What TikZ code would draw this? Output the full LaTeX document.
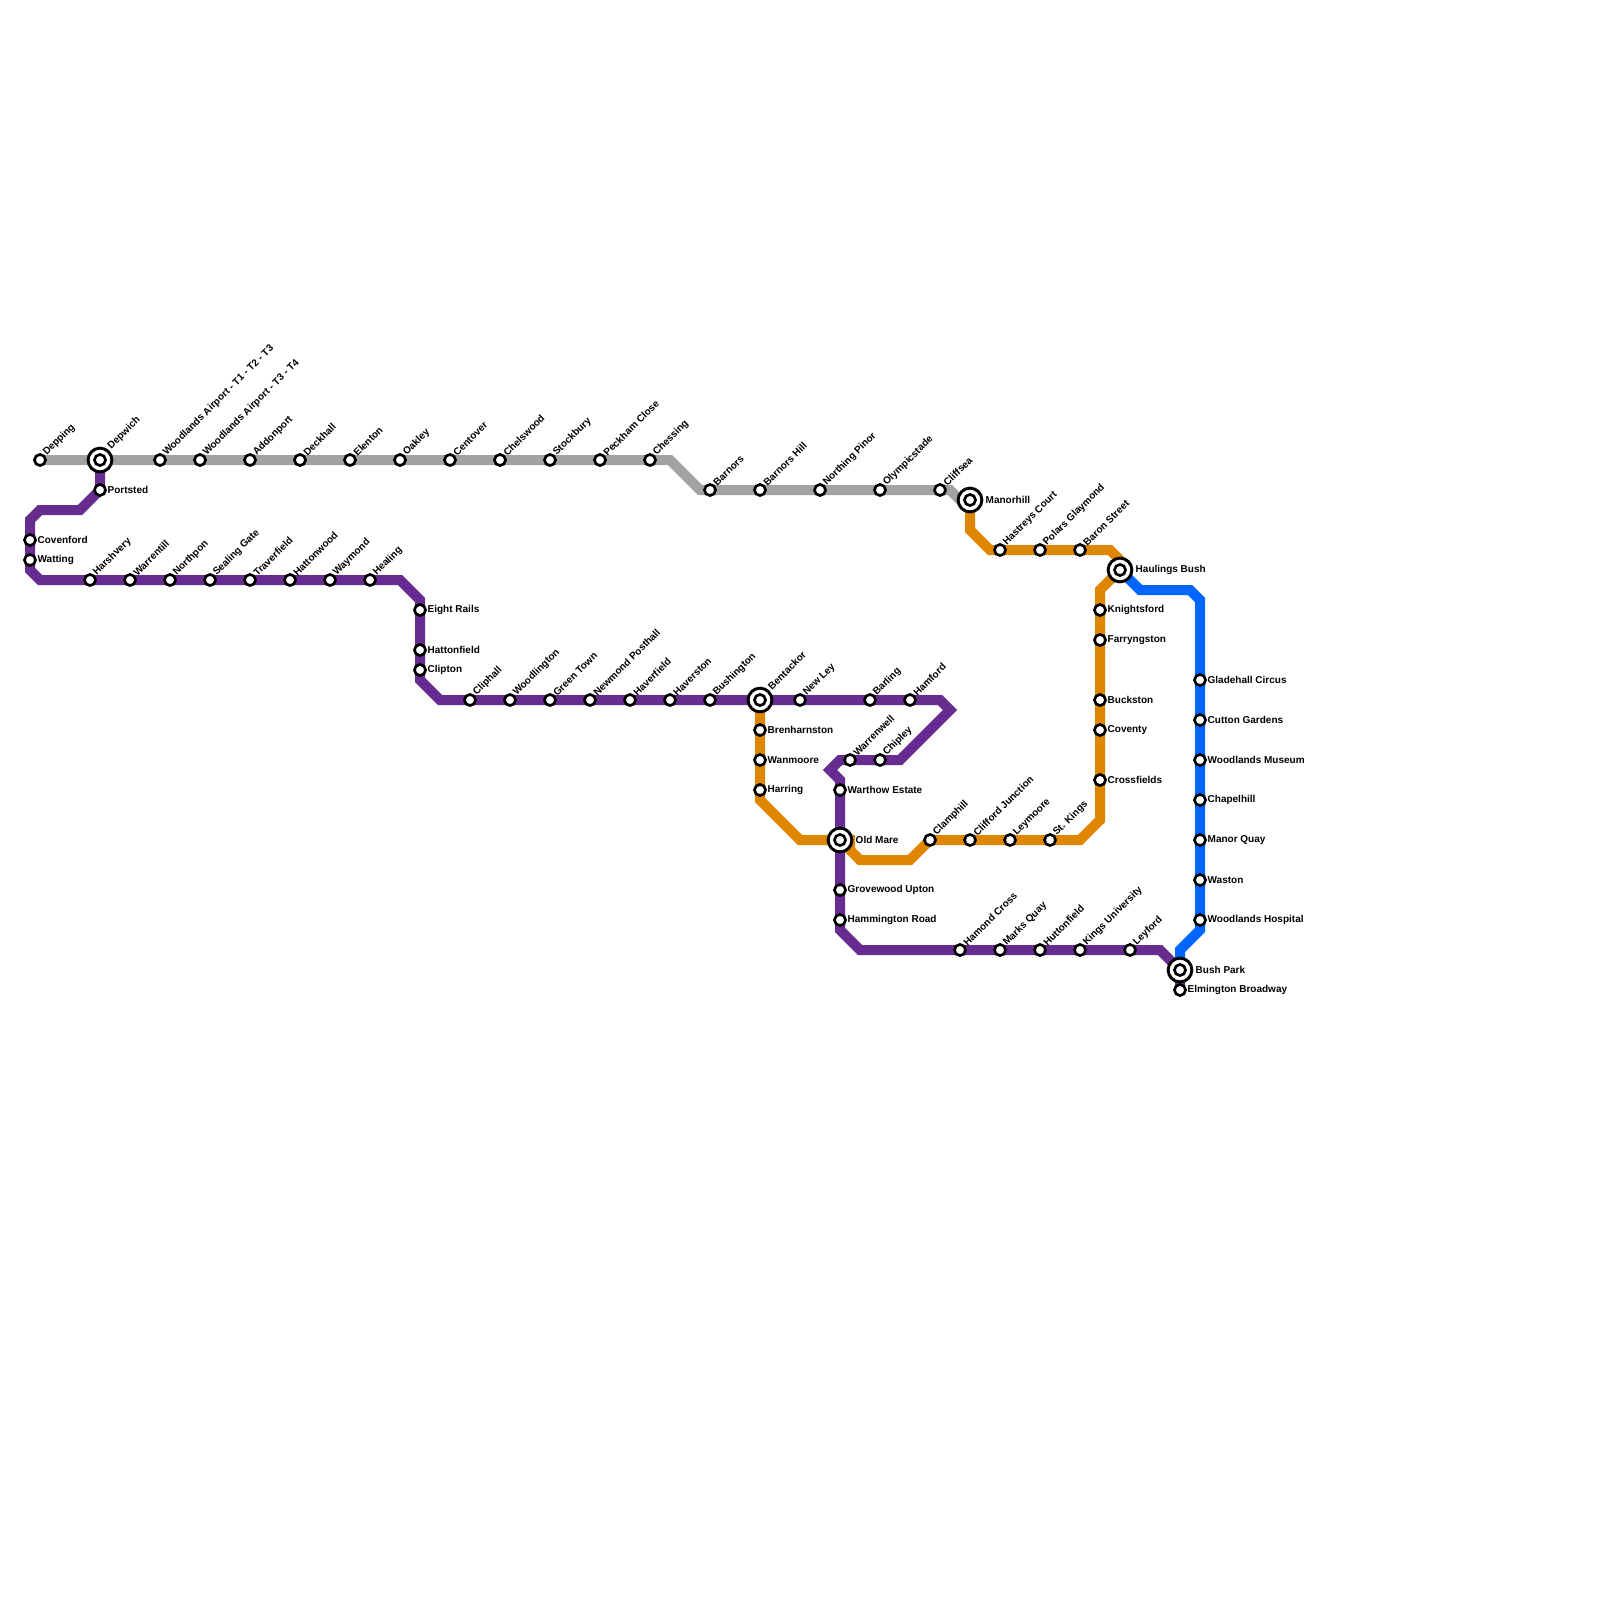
\documentclass[tikz,border=0pt]{standalone}
\usepackage{fontspec}
\setmainfont{Liberation Sans}
\pgfdeclarelayer{lines}
\pgfsetlayers{lines,main}
\definecolor{greyline}{HTML}{A2A2A2}
\definecolor{purpleline}{HTML}{662C90}
\definecolor{orangeline}{HTML}{DF8600}
\definecolor{blueline}{HTML}{0066FF}
\begin{document}
\begin{tikzpicture}[x=0.75pt, y=-0.75pt]
    \useasboundingbox (0,0) rectangle (1600,1600);

    \tikzstyle{stn} = [circle, draw=black, fill=white, line width=2pt, minimum size=8.3pt, inner sep=0pt]
    \tikzstyle{hub} = [circle, draw=black, fill=white, line width=2.2pt, minimum size=17.8pt, inner sep=0pt]
    \tikzstyle{lbl} = [font=\bfseries\fontsize{7.5}{8}\selectfont, inner sep=0pt]
    \tikzstyle{ln} = [line width=7.5pt, miter limit=10]
    \tikzset{
        r/.style={label={[lbl, label distance=0.4pt]right:#1}},
        rr/.style={label={[lbl, label distance=1.6pt]right:#1}},
        u/.style={label={[lbl, label distance=0.6pt, rotate=45, anchor=west]45:#1}},
        uu/.style={label={[lbl, label distance=1.9pt, rotate=45, anchor=west]45:#1}},
    }

    % grey
    \node (depping) [stn, u=Depping] at (40,460) {};
    \node (depwich) [hub, uu=Depwich] at (100,460) {};
    \node (depwichin) [stn] at (depwich) {};
    \node (airportone) [stn, u={Woodlands Airport - T1 - T2 - T3}] at (160,460) {};
    \node (airporttwo) [stn, u={Woodlands Airport - T3 - T4}] at (200,460) {};
    \node (addonport) [stn, u=Addonport] at (250,460) {};
    \node (deckhall) [stn, u=Deckhall] at (300,460) {};
    \node (elenton) [stn, u=Elenton] at (350,460) {};
    \node (oakley) [stn, u=Oakley] at (400,460) {};
    \node (centover) [stn, u=Centover] at (450,460) {};
    \node (chelswood) [stn, u=Chelswood] at (500,460) {};
    \node (stockbury) [stn, u=Stockbury] at (550,460) {};
    \node (peckham) [stn, u={Peckham Close}] at (600,460) {};
    \node (chessing) [stn, u=Chessing] at (650,460) {};
    \node (barnors) [stn, u=Barnors] at (710,490) {};
    \node (barnorshill) [stn, u={Barnors Hill}] at (760,490) {};
    \node (northing) [stn, u={Northing Pinor}] at (820,490) {};
    \node (olympic) [stn, u=Olympicstade] at (880,490) {};
    \node (cliffsea) [stn, u=Cliffsea] at (940,490) {};
    \node (manorhill) [hub, rr=Manorhill] at (970,500) {};
    \node (manorhillin) [stn] at (manorhill) {};

    % purple
    \node (portsted) [stn, r=Portsted] at (100,490) {};
    \node (covenford) [stn, r=Covenford] at (30,540) {};
    \node (watting) [stn, r=Watting] at (30,560) {};
    \node (harshvery) [stn, u=Harshvery] at (90,580) {};
    \node (warrentill) [stn, u=Warrentill] at (130,580) {};
    \node (northpon) [stn, u=Northpon] at (170,580) {};
    \node (sealing) [stn, u={Sealing Gate}] at (210,580) {};
    \node (traverfield) [stn, u=Traverfield] at (250,580) {};
    \node (hattonwood) [stn, u=Hattonwood] at (290,580) {};
    \node (waymond) [stn, u=Waymond] at (330,580) {};
    \node (healing) [stn, u=Healing] at (370,580) {};
    \node (eightrails) [stn, r={Eight Rails}] at (420,610) {};
    \node (hattonfield) [stn, r=Hattonfield] at (420,650) {};
    \node (clipton) [stn, r=Clipton] at (420,670) {};
    \node (cliphall) [stn, u=Cliphall] at (470,700) {};
    \node (woodlington) [stn, u=Woodlington] at (510,700) {};
    \node (greentown) [stn, u={Green Town}] at (550,700) {};
    \node (newmond) [stn, u={Newmond Posthall}] at (590,700) {};
    \node (haverfield) [stn, u=Haverfield] at (630,700) {};
    \node (haverston) [stn, u=Haverston] at (670,700) {};
    \node (bushington) [stn, u=Bushington] at (710,700) {};
    \node (bentackor) [hub, uu=Bentackor] at (760,700) {};
    \node (bentackorin) [stn] at (bentackor) {};
    \node (newley) [stn, u={New Ley}] at (800,700) {};
    \node (barling) [stn, u=Barling] at (870,700) {};
    \node (hamford) [stn, u=Hamford] at (910,700) {};
    \node (chipley) [stn, u=Chipley] at (880,760) {};
    \node (warrenwell) [stn, u=Warrenwell] at (850,760) {};
    \node (warthow) [stn, r={Warthow Estate}] at (840,790) {};
    \node (oldmare) [hub, rr={Old Mare}] at (840,840) {};
    \node (oldmarein) [stn] at (oldmare) {};
    \node (grovewood) [stn, r={Grovewood Upton}] at (840,890) {};
    \node (hammington) [stn, r={Hammington Road}] at (840,920) {};
    \node (hamond) [stn, u={Hamond Cross}] at (960,950) {};
    \node (marksquay) [stn, u={Marks Quay}] at (1000,950) {};
    \node (huttonfield) [stn, u=Huttonfield] at (1040,950) {};
    \node (kingsuni) [stn, u={Kings University}] at (1080,950) {};
    \node (leyford) [stn, u=Leyford] at (1130,950) {};
    \node (bushpark) [hub, rr={Bush Park}] at (1180,970) {};
    \node (bushparkin) [stn] at (bushpark) {};
    \node (elmington) [stn, r={Elmington Broadway}] at (1180,990) {};

    % orange
    \node (brenharnston) [stn, r=Brenharnston] at (760,730) {};
    \node (wanmoore) [stn, r=Wanmoore] at (760,760) {};
    \node (harring) [stn, r=Harring] at (760,790) {};
    \node (clamphill) [stn, u=Clamphill] at (930,840) {};
    \node (clifford) [stn, u={Clifford Junction}] at (970,840) {};
    \node (leymoore) [stn, u=Leymoore] at (1010,840) {};
    \node (stkings) [stn, u={St. Kings}] at (1050,840) {};
    \node (crossfields) [stn, r=Crossfields] at (1100,780) {};
    \node (coventy) [stn, r=Coventy] at (1100,730) {};
    \node (buckston) [stn, r=Buckston] at (1100,700) {};
    \node (farryngston) [stn, r=Farryngston] at (1100,640) {};
    \node (knightsford) [stn, r=Knightsford] at (1100,610) {};
    \node (haulings) [hub, rr={Haulings Bush}] at (1120,570) {};
    \node (haulingsin) [stn] at (haulings) {};
    \node (baron) [stn, u={Baron Street}] at (1080,550) {};
    \node (polars) [stn, u={Polars Glaymond}] at (1040,550) {};
    \node (hastreys) [stn, u={Hastreys Court}] at (1000,550) {};

    % blue
    \node (gladehall) [stn, r={Gladehall Circus}] at (1200,680) {};
    \node (cutton) [stn, r={Cutton Gardens}] at (1200,720) {};
    \node (museum) [stn, r={Woodlands Museum}] at (1200,760) {};
    \node (chapelhill) [stn, r=Chapelhill] at (1200,800) {};
    \node (manorquay) [stn, r={Manor Quay}] at (1200,840) {};
    \node (waston) [stn, r=Waston] at (1200,880) {};
    \node (hospital) [stn, r={Woodlands Hospital}] at (1200,920) {};

    \begin{pgfonlayer}{lines}
        \draw [ln, orangeline] (bentackor.center) -- (760,800) -- (800,840) -- (850,840) -- (850,850) -- (860,860) -- (910,860) -- (clamphill.center) -- (1080,840) -- (1100,820) -- (1100,590) -- (haulings.center) -- (1120,560) -- (1110,550) -- (990,550) -- (970,530) -- (manorhill.center);
        \draw [ln, purpleline] (depwich.center) -- (portsted.center) -- (80,510) -- (40,510) -- (30,520) -- (30,570) -- (40,580) -- (400,580) -- (420,600) -- (420,680) -- (440,700) -- (940,700) -- (950,710) -- (900,760) -- (840,760) -- (830,770) -- (840,780) -- (840,930) -- (860,950) -- (1160,950) -- (bushpark.center) -- (elmington.center);
        \draw [ln, greyline] (depping.center) -- (670,460) -- (700,490) -- (950,490) -- (960,500) -- (manorhill.center);
        \draw [ln, blueline] (haulings.center) -- (1140,590) -- (1190,590) -- (1200,600) -- (1200,930) -- (1180,950) -- (bushpark.center);
    \end{pgfonlayer}
\end{tikzpicture}
\end{document}
